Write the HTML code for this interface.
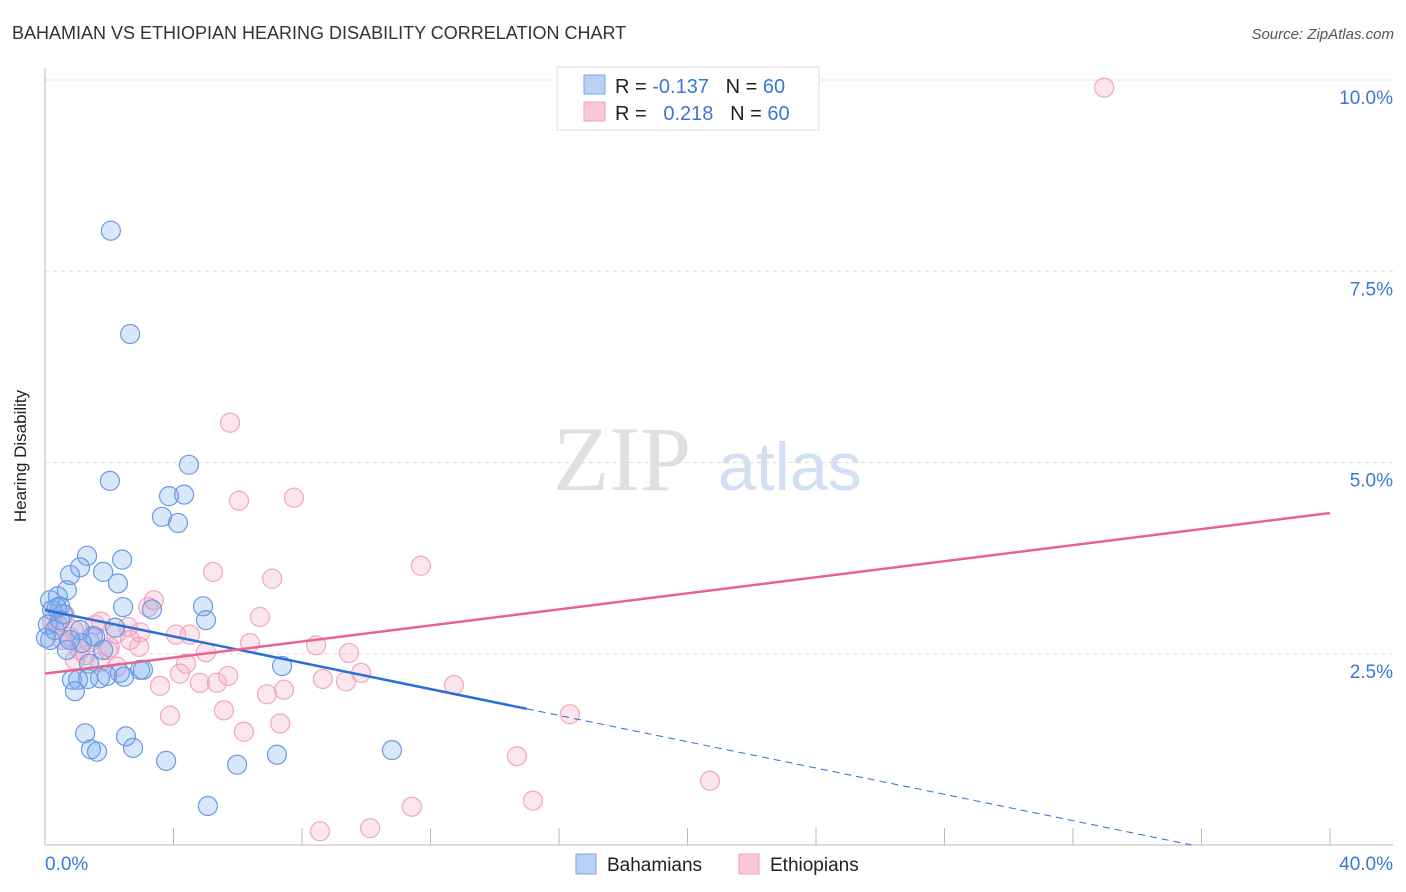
<!DOCTYPE html>
<html><head><meta charset="utf-8"><style>
body{margin:0;background:#fff;font-family:"Liberation Sans",sans-serif;}
svg{display:block}
</style></head><body>
<svg id="c" width="1406" height="892" xmlns="http://www.w3.org/2000/svg">
<text x="12" y="39" font-size="18" fill="#333">BAHAMIAN VS ETHIOPIAN HEARING DISABILITY CORRELATION CHART</text>
<text x="1394" y="39" font-size="15" fill="#555" font-style="italic" text-anchor="end">Source: ZipAtlas.com</text>
<g>
<text x="553" y="490" font-size="92" font-family="Liberation Serif,serif" fill="#e0e0e0">ZIP</text>
<text x="718" y="490" font-size="68" fill="#d2e0f3">atlas</text>
</g>
<g id="grid"></g>
<line x1="45" y1="68" x2="45" y2="845" stroke="#bbb"/>
<line x1="45" y1="845" x2="1393" y2="845" stroke="#bbb"/>
<text x="26" y="456" font-size="17" fill="#222" text-anchor="middle" transform="rotate(-90 26 456)">Hearing Disability</text>
<g id="pts"></g>
<g id="lines"></g>
<g>
<rect x="557" y="67" width="262" height="63" fill="#fff" stroke="#ddd"/>
<rect x="584" y="75" width="21" height="19" fill="#b8d1f5" stroke="#7aa6e8"/>
<rect x="584" y="102" width="21" height="19" fill="#f9c7d6" stroke="#f0a0bc"/>
<text x="615" y="93" font-size="20" fill="#222" xml:space="preserve">R = <tspan fill="#3a78d8">-0.137</tspan>   N = <tspan fill="#3a78d8">60</tspan></text>
<text x="615" y="120" font-size="20" fill="#222" xml:space="preserve">R =   <tspan fill="#3a78d8">0.218</tspan>   N = <tspan fill="#3a78d8">60</tspan></text>
</g>
<g>
<rect x="576" y="854" width="20" height="20" fill="#b8d1f5" stroke="#7aa6e8"/>
<text x="607" y="871" font-size="19" fill="#222">Bahamians</text>
<rect x="739" y="854" width="20" height="20" fill="#f9c7d6" stroke="#f0a0bc"/>
<text x="770" y="871" font-size="19" fill="#222">Ethiopians</text>
</g>
</svg>
<script>
const yTicks=[2.5,5,7.5,10];
const yTickLabels=["2.5%","5.0%","7.5%","10.0%"];
const xTickLabels=["0.0%","40.0%"];
const blueX=[2.05,2.65,4.48,2.02,3.86,4.33,3.64,4.14,1.31,2.40,1.09,1.81,0.78,2.27,0.68,0.40,0.16,0.47,0.22,2.43,3.33,4.92,0.56,5.01,0.09,2.18,1.49,0.16,1.56,1.15,0.68,1.81,7.38,1.37,2.96,3.05,2.33,1.93,1.71,0.84,1.03,2.46,1.34,0.93,1.25,2.52,1.43,1.62,2.74,3.77,5.98,7.22,10.80,5.07,0.37,0.03,0.31,1.09,0.47,0.78];
const blueY=[8.03,6.68,4.97,4.76,4.56,4.58,4.29,4.21,3.78,3.73,3.63,3.57,3.53,3.42,3.33,3.25,3.20,3.12,3.07,3.11,3.08,3.12,3.02,2.94,2.88,2.84,2.73,2.68,2.72,2.64,2.55,2.55,2.34,2.37,2.29,2.29,2.25,2.21,2.18,2.16,2.16,2.20,2.17,2.01,1.46,1.42,1.25,1.22,1.27,1.10,1.05,1.18,1.24,0.51,3.10,2.71,2.81,2.81,2.94,2.68];
const pinkX=[32.97,5.76,6.04,7.75,11.70,5.23,7.07,3.39,3.21,6.69,1.74,2.58,0.40,0.90,2.21,4.08,4.51,0.78,1.40,6.38,8.44,2.93,1.96,5.01,9.46,1.09,2.24,4.39,4.20,5.70,9.84,8.65,9.37,3.58,4.82,5.35,12.73,7.44,6.91,5.57,3.89,16.34,7.32,6.19,14.69,20.70,15.19,11.42,8.56,10.12,0.53,1.25,0.22,0.62,1.71,2.65,1.56,2.02,2.96,0.93];
const pinkY=[9.90,5.52,4.50,4.54,3.65,3.57,3.48,3.20,3.11,2.98,2.92,2.85,2.88,2.81,2.76,2.75,2.75,2.72,2.65,2.64,2.61,2.59,2.55,2.52,2.51,2.55,2.33,2.37,2.24,2.21,2.25,2.17,2.14,2.08,2.12,2.12,2.09,2.03,1.97,1.76,1.69,1.71,1.59,1.48,1.16,0.84,0.58,0.50,0.18,0.22,2.68,2.48,2.92,3.01,2.39,2.68,2.88,2.58,2.78,2.42];
const blueTrend=[3.07,1.78]; // y at x=0 and x=15
const blueSolidEnd=15;
const pinkTrend=[2.24,4.34]; // y at x=0 and x=40
const NS="http://www.w3.org/2000/svg";
const sx=v=>45+v*(1285/40);
const sy=v=>845-v*76.5;
function mk(t,a,p){const e=document.createElementNS(NS,t);for(const k in a)e.setAttribute(k,a[k]);p.appendChild(e);return e;}
const grid=document.getElementById('grid');
yTicks.forEach((t,i)=>{
 const l=mk('line',{x1:45,x2:1393,y1:sy(t),y2:sy(t),stroke:'#ddd','stroke-dasharray':'4,4'},grid);
 
 
 const tx=mk('text',{x:1393,y:sy(t)+24,'font-size':19,fill:'#3a78d8','text-anchor':'end'},grid);
 tx.textContent=yTickLabels[i];
 
 
});
for(let i=0;i<=10;i++){
 const l=mk('line',{x1:sx(i*4),x2:sx(i*4),y1:828,y2:845,stroke:'#bbb'},grid);
 
 
}
const xl0=mk('text',{x:45,y:870,'font-size':19,fill:'#3a78d8'},grid);xl0.textContent=xTickLabels[0];


const xl1=mk('text',{x:1393,y:870,'font-size':19,fill:'#3a78d8','text-anchor':'end'},grid);xl1.textContent=xTickLabels[1];


const pts=document.getElementById('pts');
pinkX.forEach((x,i)=>{
 const c=mk('circle',{cx:sx(x),cy:sy(pinkY[i]),r:9.5,fill:'rgba(244,165,192,0.28)',stroke:'#f2a6c0','stroke-width':1.2},pts);
 
 
});
blueX.forEach((x,i)=>{
 const c=mk('circle',{cx:sx(x),cy:sy(blueY[i]),r:9.5,fill:'rgba(120,168,238,0.28)',stroke:'#6a9ae2','stroke-width':1.2},pts);
 
 
});
const lines=document.getElementById('lines');
const bslope=(blueTrend[1]-blueTrend[0])/15;
const by=x=>blueTrend[0]+bslope*x;
const xz=-blueTrend[0]/bslope;
const bl=mk('line',{x1:sx(0),y1:sy(by(0)),x2:sx(blueSolidEnd),y2:sy(by(blueSolidEnd)),stroke:'#2a6fd8','stroke-width':2.5},lines);


const bd=mk('line',{x1:sx(blueSolidEnd),y1:sy(by(blueSolidEnd)),x2:sx(Math.min(40,xz)),y2:sy(by(Math.min(40,xz))),stroke:'#2a6fd8','stroke-width':1,'stroke-dasharray':'7,5'},lines);


const pl=mk('line',{x1:sx(0),y1:sy(pinkTrend[0]),x2:sx(40),y2:sy(pinkTrend[1]),stroke:'#e8648e','stroke-width':2.5},lines);


</script>
</body></html>
